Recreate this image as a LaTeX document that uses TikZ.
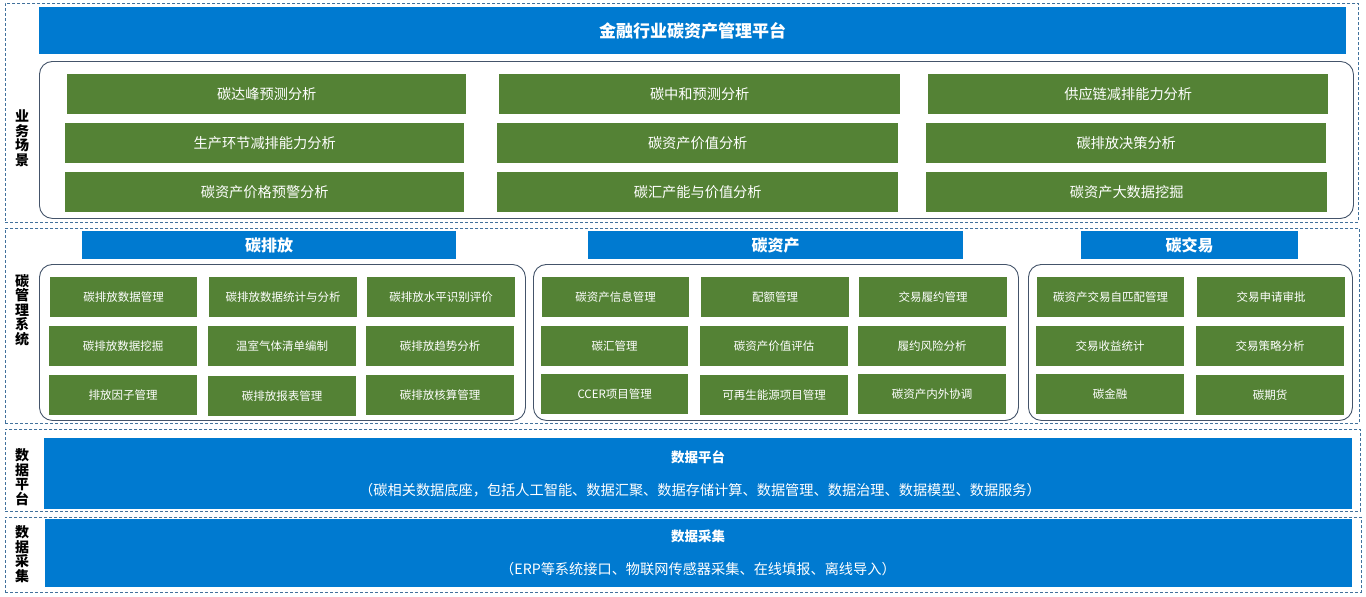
\documentclass[tikz,border=0pt]{standalone}
\usepackage{fontspec}
\setmainfont{Noto Sans CJK SC}
\definecolor{hdrblue}{RGB}{0,122,208}
\definecolor{cellgreen}{RGB}{84,130,53}
\definecolor{dashblue}{RGB}{65,113,156}
\definecolor{roundline}{RGB}{68,84,106}
\newcommand{\boxat}[7]{\node[#1,minimum width={#5pt-#3pt},minimum height={#6pt-#4pt},anchor=north west] (#2) at (#3,#4) {#7};}
\tikzset{
  section/.style={draw=dashblue,line width=0.8pt,dash pattern=on 3pt off 2pt,inner sep=0pt},
  groupbox/.style={draw=roundline,line width=0.9pt,rounded corners=13pt,inner sep=0pt},
  bluebar/.style={fill=hdrblue,inner sep=0pt,text=white,font=\bfseries\fontsize{17}{20}\selectfont},
  subhdr/.style={fill=hdrblue,inner sep=0pt,text=white,font=\bfseries\fontsize{16}{19}\selectfont},
  bigcell/.style={fill=cellgreen,inner sep=0pt,text=white,font=\fontsize{14.2}{17}\selectfont},
  smallcell/.style={fill=cellgreen,inner sep=0pt,text=white,font=\fontsize{11.5}{14}\selectfont},
  databar/.style={fill=hdrblue,inner sep=0pt},
  sidelabel/.style={inner sep=0pt,align=center,font=\bfseries\fontsize{14}{14.5}\selectfont},
  datatitle/.style={inner sep=0pt,text=white,font=\bfseries\fontsize{13.5}{16}\selectfont},
  datasub/.style={inner sep=0pt,text=white,font=\fontsize{14.2}{17}\selectfont}
}
\begin{document}
\begin{tikzpicture}[x=1pt,y=-1pt]
\useasboundingbox (0,0) rectangle (1366,597);
% sections
\boxat{section}{s1}{5}{3}{1358}{222}{}
\boxat{section}{s2}{5}{228}{1359}{423}{}
\boxat{section}{s3}{5}{429}{1360}{511}{}
\boxat{section}{s4}{5}{517}{1361}{592}{}
% side labels
\node[sidelabel] (l1) at (22,138) {业\\务\\场\\景};
\node[sidelabel] (l2) at (22,310) {碳\\管\\理\\系\\统};
\node[sidelabel] (l3) at (22,477) {数\\据\\平\\台};
\node[sidelabel] (l4) at (22,554) {数\\据\\采\\集};
% title
\boxat{bluebar}{title}{39}{7}{1346}{54}{金融行业碳资产管理平台}
% section 1
\boxat{groupbox}{g0}{39}{61}{1353}{218}{}
\boxat{bigcell}{a11}{67}{74}{466}{114}{碳达峰预测分析}
\boxat{bigcell}{a12}{499}{74}{900}{114}{碳中和预测分析}
\boxat{bigcell}{a13}{928}{74}{1328}{114}{供应链减排能力分析}
\boxat{bigcell}{a21}{65}{123}{464}{163}{生产环节减排能力分析}
\boxat{bigcell}{a22}{497}{123}{898}{163}{碳资产价值分析}
\boxat{bigcell}{a23}{926}{123}{1326}{163}{碳排放决策分析}
\boxat{bigcell}{a31}{65}{172}{464}{212}{碳资产价格预警分析}
\boxat{bigcell}{a32}{497}{172}{898}{212}{碳汇产能与价值分析}
\boxat{bigcell}{a33}{926}{172}{1327}{212}{碳资产大数据挖掘}
% section 2 headers
\boxat{subhdr}{h1}{82}{231}{456}{259}{碳排放}
\boxat{subhdr}{h2}{588}{231}{963}{259}{碳资产}
\boxat{subhdr}{h3}{1081}{231}{1298}{259}{碳交易}
% group boxes
\boxat{groupbox}{g1}{39}{264}{525}{420}{}
\boxat{groupbox}{g2}{533}{264}{1018}{420}{}
\boxat{groupbox}{g3}{1028}{264}{1352}{420}{}
% group 1
\boxat{smallcell}{e11}{50}{277}{197}{317}{碳排放数据管理}
\boxat{smallcell}{e12}{209}{277}{357}{317}{碳排放数据统计与分析}
\boxat{smallcell}{e13}{367}{277}{515}{317}{碳排放水平识别评价}
\boxat{smallcell}{e21}{49}{326}{197}{366}{碳排放数据挖掘}
\boxat{smallcell}{e22}{208}{326}{356}{366}{温室气体清单编制}
\boxat{smallcell}{e23}{366}{326}{514}{366}{碳排放趋势分析}
\boxat{smallcell}{e31}{49}{375}{197}{415}{排放因子管理}
\boxat{smallcell}{e32}{208}{376}{356}{416}{碳排放报表管理}
\boxat{smallcell}{e33}{366}{375}{514}{415}{碳排放核算管理}
% group 2
\boxat{smallcell}{c11}{542}{277}{689}{317}{碳资产信息管理}
\boxat{smallcell}{c12}{701}{277}{849}{317}{配额管理}
\boxat{smallcell}{c13}{859}{277}{1007}{317}{交易履约管理}
\boxat{smallcell}{c21}{541}{326}{688}{366}{碳汇管理}
\boxat{smallcell}{c22}{700}{326}{848}{366}{碳资产价值评估}
\boxat{smallcell}{c23}{858}{326}{1006}{366}{履约风险分析}
\boxat{smallcell}{c31}{541}{374}{688}{414}{CCER项目管理}
\boxat{smallcell}{c32}{700}{375}{848}{415}{可再生能源项目管理}
\boxat{smallcell}{c33}{858}{374}{1006}{414}{碳资产内外协调}
% group 3
\boxat{smallcell}{t11}{1037}{277}{1184}{317}{碳资产交易自匹配管理}
\boxat{smallcell}{t12}{1197}{277}{1345}{317}{交易申请审批}
\boxat{smallcell}{t21}{1036}{326}{1184}{366}{交易收益统计}
\boxat{smallcell}{t22}{1196}{326}{1344}{366}{交易策略分析}
\boxat{smallcell}{t31}{1036}{374}{1184}{414}{碳金融}
\boxat{smallcell}{t32}{1196}{375}{1344}{415}{碳期货}
% data platform
\boxat{databar}{dp}{44}{438}{1352}{509}{}
\node[datatitle] (dpt) at (698,457) {数据平台};
\node[datasub] (dps) at (700,490) {（碳相关数据底座，包括人工智能、数据汇聚、数据存储计算、数据管理、数据治理、数据模型、数据服务）};
% data collection
\boxat{databar}{dc}{45}{519}{1352}{587}{}
\node[datatitle] (dct) at (698,536) {数据采集};
\node[datasub] (dcs) at (698,569) {（ERP等系统接口、物联网传感器采集、在线填报、离线导入）};
\end{tikzpicture}
\end{document}
